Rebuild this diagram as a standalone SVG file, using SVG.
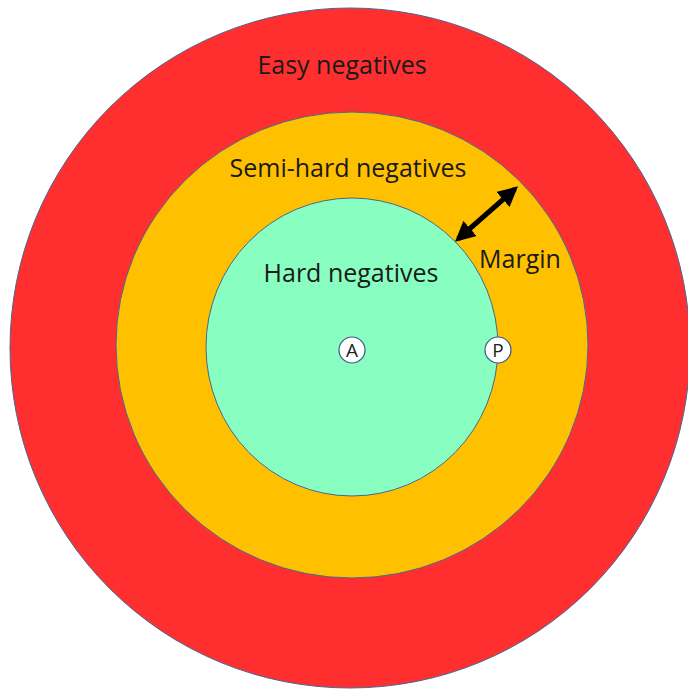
<svg xmlns="http://www.w3.org/2000/svg" width="688" height="689" viewBox="0 0 688 689">
<defs>
<style>
.ring{stroke:#4a6690;stroke-width:1}
.lbl{font-family:"Open Sans","Liberation Sans",sans-serif;font-size:25px;fill:#1a1a1a;text-anchor:middle}
.pt{fill:#ffffff;stroke:#3d5a8a;stroke-width:1.2}
.ptl{font-family:"Open Sans","Liberation Sans",sans-serif;font-size:19px;fill:#222;text-anchor:middle}
</style>
<marker id="ah" viewBox="0 0 10 10" refX="8" refY="5" markerWidth="4" markerHeight="4" orient="auto-start-reverse" markerUnits="strokeWidth">
<path d="M0,0 L10,5 L0,10 z" fill="#000"/>
</marker>
</defs>
<rect width="688" height="689" fill="#ffffff"/>
<g id="easy">
<circle class="ring" cx="350" cy="348" r="340" fill="#ff2f2f"/>
<text class="lbl" x="342" y="74">Easy negatives</text>
</g>
<g id="semihard">
<ellipse class="ring" cx="352" cy="345" rx="236" ry="233" fill="#ffc000"/>
<text class="lbl" x="348" y="177">Semi-hard negatives</text>
</g>
<g id="hard">
<ellipse class="ring" cx="352" cy="347" rx="146" ry="149" fill="#88ffc0"/>
<text class="lbl" x="351" y="282">Hard negatives</text>
</g>
<g id="margin">
<text class="lbl" x="520" y="268">Margin</text>
</g>
<g id="connectors">
<line x1="458" y1="239" x2="515" y2="189" stroke="#000" stroke-width="5" marker-start="url(#ah)" marker-end="url(#ah)"/>
</g>
<g id="A">
<circle class="pt" cx="352" cy="350" r="13"/>
<text class="ptl" x="352" y="357">A</text>
</g>
<g id="P">
<circle class="pt" cx="498" cy="350" r="13"/>
<text class="ptl" x="498" y="357">P</text>
</g>
</svg>
